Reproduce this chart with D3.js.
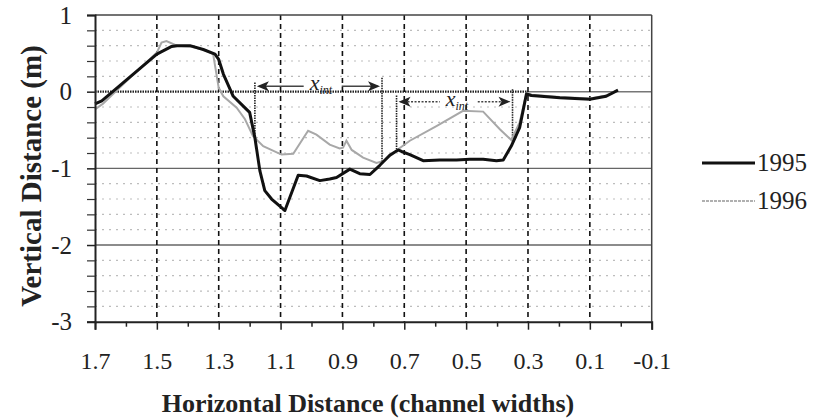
<!DOCTYPE html>
<html><head><meta charset="utf-8">
<script src="https://cdn.jsdelivr.net/npm/d3@7/dist/d3.min.js"></script>
<style>body{margin:0;background:#fff}svg{display:block}svg text{font-family:"Liberation Serif","Times New Roman",Tinos,serif}</style>
</head><body><svg id="c" width="817" height="420" font-family="Liberation Serif"></svg>
<script>
const xMajorTicks=[1.7,1.5,1.3,1.1,0.9,0.7,0.5,0.3,0.1,-0.1];
const xMinorTicks=[1.6,1.4,1.2,1.0,0.8,0.6,0.4,0.2,0.0];
const yMajorTicks=[1,0,-1,-2,-3];
const yMinorTicks=[0.8,0.6,0.4,0.2,-0.2,-0.4,-0.6,-0.8,-1.2,-1.4,-1.6,-1.8,-2.2,-2.4,-2.6,-2.8];
const seriesNames=["1995","1996"];
const x1995=[1.70,1.678,1.50,1.452,1.435,1.393,1.35,1.312,1.30,1.285,1.253,1.21,1.20,1.183,1.167,1.151,1.129,1.092,1.086,1.043,1.016,0.973,0.941,0.919,0.876,0.844,0.811,0.779,0.747,0.72,0.709,0.682,0.639,0.585,0.531,0.488,0.445,0.402,0.38,0.354,0.327,0.305,0.289,0.197,0.10,0.047,0.009];
const y1995=[-0.16,-0.12,0.49,0.59,0.60,0.60,0.55,0.49,0.42,0.23,-0.06,-0.23,-0.27,-0.60,-1.03,-1.29,-1.40,-1.53,-1.55,-1.09,-1.10,-1.16,-1.14,-1.12,-1.01,-1.07,-1.08,-0.96,-0.83,-0.76,-0.78,-0.82,-0.90,-0.89,-0.89,-0.88,-0.88,-0.90,-0.89,-0.71,-0.47,-0.03,-0.05,-0.08,-0.10,-0.06,0.02];
const x1996=[1.70,1.675,1.587,1.50,1.485,1.469,1.435,1.393,1.35,1.318,1.30,1.285,1.242,1.215,1.189,1.156,1.097,1.059,1.011,0.984,0.941,0.909,0.898,0.887,0.87,0.833,0.79,0.763,0.72,0.682,0.596,0.51,0.445,0.391,0.354,0.327,0.305,0.289,0.197,0.10,0.047,0.009];
const y1996=[-0.23,-0.16,0.18,0.51,0.64,0.66,0.60,0.59,0.55,0.49,0.05,-0.06,-0.21,-0.36,-0.58,-0.71,-0.82,-0.81,-0.51,-0.56,-0.69,-0.74,-0.73,-0.64,-0.76,-0.86,-0.93,-0.90,-0.75,-0.64,-0.45,-0.25,-0.26,-0.49,-0.63,-0.40,-0.02,-0.04,-0.07,-0.09,-0.05,0.02];
// x_int annotations (data units)
const annLeftX=[1.183,0.725];
const annRightX=[0.772,0.35];
const annArrowY=[0.07,-0.13];
const annLeftTop=[0.12,-0.05];
const annRightTop=[0.18,0.03];
const annLeftBottom=[-0.55,-0.75];
const annRightBottom=[-0.94,-0.62];
const annLabelX=[0.98,0.54];

const svg=d3.select("#c");
const x=d3.scaleLinear().domain([1.7,-0.1]).range([95,651.7]);
const y=d3.scaleLinear().domain([-3,1]).range([321.7,15]);
const serif="Liberation Serif";

// minor horizontal grid
svg.append("g").selectAll("line").data(yMinorTicks).join("line")
 .attr("x1",x(1.7)).attr("x2",x(-0.1)).attr("y1",d=>y(d)).attr("y2",d=>y(d))
 .attr("stroke","#bdbdbd").attr("stroke-width",1.2).attr("stroke-dasharray","2,5");
// major horizontal grid
svg.append("g").selectAll("line").data([-1,-2]).join("line")
 .attr("x1",x(1.7)).attr("x2",x(-0.1)).attr("y1",d=>y(d)).attr("y2",d=>y(d))
 .attr("stroke","#666").attr("stroke-width",1.4);
svg.append("line").attr("x1",x(1.7)).attr("x2",x(0.3)).attr("y1",y(0)).attr("y2",y(0))
 .attr("stroke","#222").attr("stroke-width",2.2).attr("stroke-dasharray","1.5,1");
svg.append("line").attr("x1",x(0.3)).attr("x2",x(-0.1)).attr("y1",y(0)).attr("y2",y(0))
 .attr("stroke","#777").attr("stroke-width",1.4);
// vertical dashed grid
svg.append("g").selectAll("line").data(xMajorTicks.slice(1,-1)).join("line")
 .attr("x1",d=>x(d)).attr("x2",d=>x(d)).attr("y1",y(1)).attr("y2",y(-3))
 .attr("stroke","#111").attr("stroke-width",1.6).attr("stroke-dasharray","5,4");
// border top/right
svg.append("line").attr("x1",x(1.7)).attr("x2",x(-0.1)).attr("y1",y(1)).attr("y2",y(1)).attr("stroke","#444").attr("stroke-width",1.5);
svg.append("line").attr("x1",x(-0.1)).attr("x2",x(-0.1)).attr("y1",y(1)).attr("y2",y(-3)).attr("stroke","#444").attr("stroke-width",1.5);

// annotations
const ann=svg.append("g");
annLeftX.forEach((lx,i)=>{
  const rx=annRightX[i], ay=annArrowY[i];
  ann.append("line").attr("x1",x(lx)).attr("x2",x(lx)).attr("y1",y(annLeftTop[i])).attr("y2",y(annLeftBottom[i]))
    .attr("stroke","#222").attr("stroke-width",1.6).attr("stroke-dasharray","1.5,1");
  ann.append("line").attr("x1",x(rx)).attr("x2",x(rx)).attr("y1",y(annRightTop[i])).attr("y2",y(annRightBottom[i]))
    .attr("stroke","#222").attr("stroke-width",1.6).attr("stroke-dasharray","1.5,1");
  const lxPx=x(lx), rxPx=x(rx), ayPx=y(ay), cx=x(annLabelX[i]);
  const dash=i===1?"2,1.5":null;
  ann.append("line").attr("x1",lxPx+4).attr("x2",cx-14).attr("y1",ayPx).attr("y2",ayPx)
    .attr("stroke","#444").attr("stroke-width",1.5).attr("stroke-dasharray",dash);
  ann.append("line").attr("x1",cx+24).attr("x2",rxPx-4).attr("y1",ayPx).attr("y2",ayPx)
    .attr("stroke","#444").attr("stroke-width",1.5).attr("stroke-dasharray",dash);
  ann.append("path").attr("d",`M${lxPx+2},${ayPx} l12,-5 l-3,5 l3,5 z`).attr("fill","#222");
  ann.append("path").attr("d",`M${rxPx-2},${ayPx} l-12,-5 l3,5 l-3,5 z`).attr("fill","#222");
  const t=ann.append("text").attr("x",cx-8).attr("y",ayPx+4).attr("font-size",22).attr("font-style","italic")
    .attr("font-family",serif).attr("fill","#222");
  t.append("tspan").text("x");
  t.append("tspan").attr("font-size",12).attr("dy",4).text("int");
});

// series
const line=d3.line().x(d=>x(d[0])).y(d=>y(d[1]));
const d96=x1996.map((v,i)=>[v,y1996[i]]);
const d95=x1995.map((v,i)=>[v,y1995[i]]);
svg.append("path").datum(d96).attr("d",line).attr("fill","none").attr("stroke","#a8a8a8").attr("stroke-width",2);
svg.append("path").datum(d95).attr("d",line).attr("fill","none").attr("stroke","#111").attr("stroke-width",3).attr("stroke-linejoin","round");

// axes
const xa=svg.append("g").attr("transform",`translate(0,${y(-3)})`)
 .call(d3.axisBottom(x).tickValues(xMajorTicks).tickSize(8).tickFormat(d=>d3.format(".1f")(d).replace("−","-")));
xa.attr("font-family",serif);
xa.select(".domain").attr("stroke","#222").attr("stroke-width",2);
xa.selectAll(".tick line").attr("stroke","#222").attr("stroke-width",1.5);
xa.selectAll("text").attr("y",47).attr("dy",0).attr("font-size",24).attr("font-family",serif).attr("fill","#222");
const xm=svg.append("g").attr("transform",`translate(0,${y(-3)})`)
 .call(d3.axisBottom(x).tickValues(xMinorTicks).tickSize(5).tickFormat(""));
xm.select(".domain").remove();
xm.selectAll(".tick line").attr("stroke","#222").attr("stroke-width",1.5);

const ya=svg.append("g").attr("transform",`translate(${x(1.7)},0)`)
 .call(d3.axisLeft(y).tickValues(yMajorTicks).tickSize(8).tickPadding(15).tickFormat(d=>String(d)));
ya.attr("font-family",serif);
ya.select(".domain").attr("stroke","#222").attr("stroke-width",2);
ya.selectAll(".tick line").attr("stroke","#222").attr("stroke-width",1.5);
ya.selectAll("text").attr("font-size",25).attr("font-family",serif).attr("fill","#222");
const ym=svg.append("g").attr("transform",`translate(${x(1.7)},0)`)
 .call(d3.axisLeft(y).tickValues(yMinorTicks).tickSize(8).tickFormat(""));
ym.select(".domain").remove();
ym.selectAll(".tick line").attr("stroke","#333").attr("stroke-width",1.2);

// titles
svg.append("text").attr("x",368).attr("y",412).attr("text-anchor","middle").attr("font-size",26).attr("font-weight","bold")
 .attr("font-family",serif).attr("fill","#222").text("Horizontal Distance (channel widths)");
svg.append("text").attr("transform","translate(41,176) rotate(-90)").attr("text-anchor","middle").attr("font-size",29).attr("font-weight","bold")
 .attr("font-family",serif).attr("fill","#222").text("Vertical Distance (m)");

// legend
const lg=svg.append("g");
seriesNames.forEach((n,i)=>{
  const ly=163+i*38;
  lg.append("line").attr("x1",702).attr("x2",755).attr("y1",ly).attr("y2",ly)
    .attr("stroke",i===0?"#111":"#b0b0b0").attr("stroke-width",i===0?3:2).attr("stroke-dasharray",i===1?"3,1":null);
  lg.append("text").attr("x",757).attr("y",ly+8).attr("font-size",25).attr("font-family",serif).attr("fill","#222").text(n);
});
</script></body></html>
